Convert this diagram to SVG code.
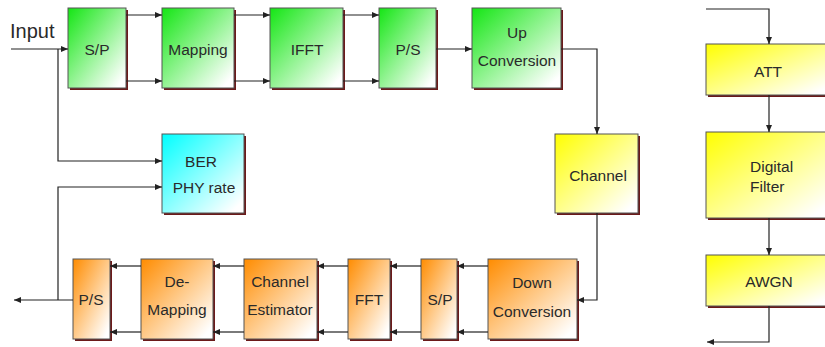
<svg xmlns="http://www.w3.org/2000/svg" width="825" height="347" viewBox="0 0 825 347">
<defs>
<linearGradient id="gG" x1="0" y1="0" x2="1" y2="1"><stop offset="0" stop-color="#14e614"/><stop offset="0.92" stop-color="#ffffff"/></linearGradient>
<linearGradient id="gC" x1="0" y1="0" x2="1" y2="1"><stop offset="0" stop-color="#00ffff"/><stop offset="0.92" stop-color="#ffffff"/></linearGradient>
<linearGradient id="gY" x1="0" y1="0" x2="1" y2="1"><stop offset="0" stop-color="#ffff00"/><stop offset="0.92" stop-color="#ffffff"/></linearGradient>
<linearGradient id="gO" x1="0" y1="0" x2="1" y2="1"><stop offset="0" stop-color="#ff8c00"/><stop offset="0.92" stop-color="#ffffff"/></linearGradient>
<marker id="ah" markerWidth="7" markerHeight="6" refX="7" refY="3" orient="auto" markerUnits="userSpaceOnUse"><path d="M0,0 L7,3 L0,6 Z" fill="#222"/></marker>
</defs>
<style>
.sh{fill:#6b1a1a}
.bx{stroke:#555;stroke-width:1}
.g{fill:url(#gG)}.c{fill:url(#gC)}.y{fill:url(#gY)}.o{fill:url(#gO)}
text{font-family:"Liberation Sans",Arial,sans-serif;font-size:15.5px;fill:#2a2a2a;text-anchor:middle}
.cn path{fill:none;stroke:#222;stroke-width:1.2;marker-end:url(#ah)}
</style>
<text x="10" y="38" style="font-size:20px;text-anchor:start">Input</text>
<g id="tx-sp"><rect class="sh" x="70" y="10" width="58" height="80"/><rect class="bx g" x="68" y="8" width="58" height="80"/><text x="97" y="55">S/P</text></g>
<g id="tx-map"><rect class="sh" x="164" y="10" width="72" height="80"/><rect class="bx g" x="162" y="8" width="72" height="80"/><text x="198" y="55">Mapping</text></g>
<g id="tx-ifft"><rect class="sh" x="272" y="10" width="73" height="80"/><rect class="bx g" x="270" y="8" width="73" height="80"/><text x="307" y="55">IFFT</text></g>
<g id="tx-ps"><rect class="sh" x="381" y="10" width="57" height="80"/><rect class="bx g" x="379" y="8" width="57" height="80"/><text x="408" y="55">P/S</text></g>
<g id="tx-up"><rect class="sh" x="474" y="10" width="89" height="80"/><rect class="bx g" x="472" y="8" width="89" height="80"/><text x="517" y="38">Up</text><text x="517" y="66">Conversion</text></g>
<g id="ber"><rect class="sh" x="164" y="136" width="82" height="79"/><rect class="bx c" x="162" y="134" width="82" height="79"/><text x="201" y="167">BER</text><text x="204" y="193">PHY rate</text></g>
<g id="channel"><rect class="sh" x="557" y="136" width="83" height="79"/><rect class="bx y" x="555" y="134" width="83" height="79"/><text x="598" y="181">Channel</text></g>
<g id="rx-down"><rect class="sh" x="490" y="261" width="89" height="80"/><rect class="bx o" x="488" y="259" width="89" height="80"/><text x="532" y="288">Down</text><text x="532" y="317">Conversion</text></g>
<g id="rx-sp"><rect class="sh" x="423" y="261" width="36" height="80"/><rect class="bx o" x="421" y="259" width="36" height="80"/><text x="440" y="305">S/P</text></g>
<g id="rx-fft"><rect class="sh" x="350" y="261" width="42" height="80"/><rect class="bx o" x="348" y="259" width="42" height="80"/><text x="369" y="305">FFT</text></g>
<g id="rx-ce"><rect class="sh" x="246" y="261" width="73" height="80"/><rect class="bx o" x="244" y="259" width="73" height="80"/><text x="280" y="287">Channel</text><text x="280" y="315">Estimator</text></g>
<g id="rx-demap"><rect class="sh" x="143" y="261" width="72" height="80"/><rect class="bx o" x="141" y="259" width="72" height="80"/><text x="177" y="287">De-</text><text x="177" y="315">Mapping</text></g>
<g id="rx-ps"><rect class="sh" x="75" y="261" width="37" height="80"/><rect class="bx o" x="73" y="259" width="37" height="80"/><text x="91" y="305">P/S</text></g>
<g id="att"><rect class="sh" x="708" y="46" width="124" height="51"/><rect class="bx y" x="706" y="44" width="124" height="51"/><text x="768" y="77">ATT</text></g>
<g id="dfilter"><rect class="sh" x="708" y="134" width="124" height="86"/><rect class="bx y" x="706" y="132" width="124" height="86"/><text x="750" y="172" style="text-anchor:start">Digital</text><text x="750" y="192" style="text-anchor:start">Filter</text></g>
<g id="awgn"><rect class="sh" x="708" y="257" width="124" height="51"/><rect class="bx y" x="706" y="255" width="124" height="51"/><text x="769" y="287">AWGN</text></g>
<g id="connectors" class="cn">
<path d="M11 49 H68"/>
<path d="M126 15 H162"/><path d="M126 81 H162"/>
<path d="M234 15 H270"/><path d="M234 81 H270"/>
<path d="M343 15 H379"/><path d="M343 81 H379"/>
<path d="M436 49 H472"/>
<path d="M561 49 H597 V134"/>
<path d="M597 213 V300 H577"/>
<path d="M488 266 H457"/><path d="M488 332 H457"/>
<path d="M421 266 H390"/><path d="M421 332 H390"/>
<path d="M348 266 H317"/><path d="M348 332 H317"/>
<path d="M244 266 H213"/><path d="M244 332 H213"/>
<path d="M141 266 H110"/><path d="M141 332 H110"/>
<path d="M58 49 V161 H162"/>
<path d="M58 300 V187 H162"/>
<path d="M73 300 H14"/>
<path d="M706 9 H769 V44"/>
<path d="M769 95 V132"/>
<path d="M769 218 V255"/>
<path d="M769 306 V342 H707"/>
</g>
</svg>
